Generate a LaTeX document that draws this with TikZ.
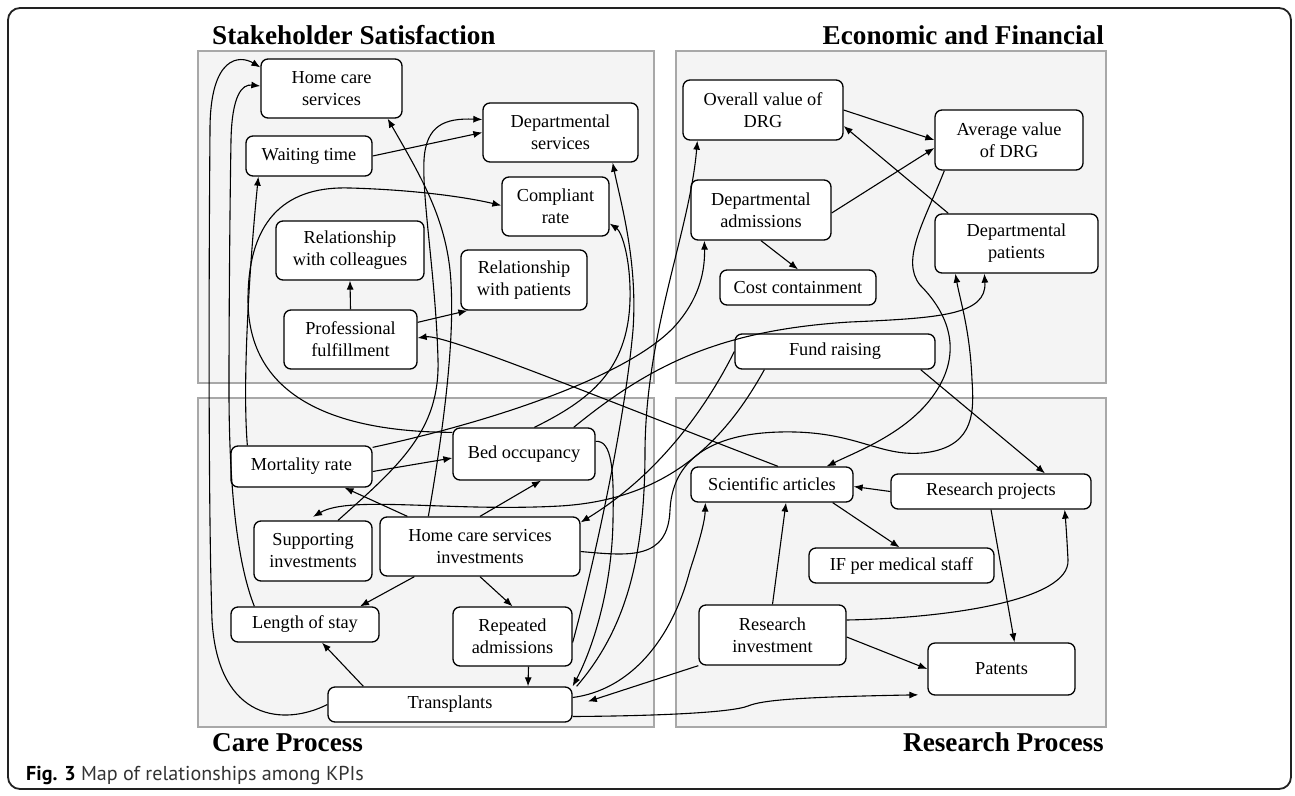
\documentclass[tikz,border=0pt]{standalone}
\usepackage{fontspec}
\setmainfont{Liberation Serif}
\newfontfamily\capfont{PT Sans}
\usetikzlibrary{arrows.meta,calc}
\definecolor{quadfill}{HTML}{F4F4F4}
\definecolor{quadline}{HTML}{A8A8A8}
\definecolor{framecol}{HTML}{222222}
\definecolor{captext}{HTML}{333333}
\pgfdeclarelayer{bg}
\pgfsetlayers{bg,main}
\newcommand\kpifont{\fontsize{18.3}{22}\selectfont}
\newcommand\ttlfont{\fontsize{27.2}{30}\selectfont\bfseries}
\tikzset{
  kpi/.style={draw=black, line width=1.3pt, rounded corners=7pt, fill=white, align=center, inner sep=0pt, font=\kpifont},
  conn/.style={-{Latex[length=9pt,width=7pt]}, line width=1.1pt},
  quad/.style={fill=quadfill, draw=quadline, line width=1.2pt},
  ttl/.style={font=\ttlfont, inner sep=0pt}
}
\begin{document}
\begin{tikzpicture}[x=1pt,y=-1pt]
\useasboundingbox (0,0) rectangle (1295,795);
\begin{pgfonlayer}{bg}
\fill[white] (0,0) rectangle (1295,795);
\draw[framecol, line width=1.8pt, rounded corners=12pt] (8,8) rectangle (1291,789);
\draw[quad] (198,51) rectangle (654,383);
\draw[quad] (676,51) rectangle (1106,383);
\draw[quad] (198,398) rectangle (654,727);
\draw[quad] (676,398) rectangle (1106,727);
\end{pgfonlayer}
% titles
\node[ttl, anchor=base west] (tSS) at (212,44) {Stakeholder Satisfaction};
\node[ttl, anchor=base east] (tEF) at (1104,44) {Economic and Financial};
\node[ttl, anchor=base west] (tCP) at (212,751) {Care Process};
\node[ttl, anchor=base east] (tRP) at (1104,751) {Research Process};
\node[anchor=base west, inner sep=0pt, text=captext, font=\capfont\fontsize{20.1}{23}\selectfont] (cap) at (26,780) {\textbf{\color{black}Fig. 3} Map of relationships among KPIs};
% Stakeholder Satisfaction
\node[kpi,minimum width=141pt,minimum height=59pt] (HCS) at (331.5,88.5) {Home care\\services};
\node[kpi,minimum width=126pt,minimum height=40pt] (WT) at (309,156) {Waiting time};
\node[kpi,minimum width=155pt,minimum height=59pt] (DS) at (560.5,132.5) {Departmental\\services};
\node[kpi,minimum width=107pt,minimum height=59pt] (CR) at (555.5,206.5) {Compliant\\rate};
\node[kpi,minimum width=148pt,minimum height=59pt] (RC) at (350,250.5) {Relationship\\with colleagues};
\node[kpi,minimum width=126pt,minimum height=60pt] (RPt) at (524,280) {Relationship\\with patients};
\node[kpi,minimum width=133pt,minimum height=59pt] (PF) at (350.5,339.5) {Professional\\fulfillment};
% Economic and Financial
\node[kpi,minimum width=160pt,minimum height=60pt] (OVD) at (763,110) {Overall value of\\DRG};
\node[kpi,minimum width=148pt,minimum height=60pt] (AVD) at (1009,140) {Average value\\of DRG};
\node[kpi,minimum width=140pt,minimum height=60pt] (DA) at (761,210) {Departmental\\admissions};
\node[kpi,minimum width=163pt,minimum height=59pt] (DP) at (1016.5,243.5) {Departmental\\patients};
\node[kpi,minimum width=156pt,minimum height=35pt] (CC) at (798,287.5) {Cost containment};
\node[kpi,minimum width=200pt,minimum height=35pt] (FR) at (835,351.5) {Fund raising};
% Care Process
\node[kpi,minimum width=142pt,minimum height=52pt] (BO) at (524,454) {Bed occupancy};
\node[kpi,minimum width=141pt,minimum height=41pt] (MR) at (301.5,466.5) {Mortality rate};
\node[kpi,minimum width=118pt,minimum height=60pt] (SI) at (313,551) {Supporting\\investments};
\node[kpi,minimum width=200pt,minimum height=59pt] (HCSI) at (480,546.5) {Home care services\\investments};
\node[kpi,minimum width=148pt,minimum height=35pt] (LoS) at (305,624.5) {Length of stay};
\node[kpi,minimum width=119pt,minimum height=59pt] (RA) at (512.5,636.5) {Repeated\\admissions};
\node[kpi,minimum width=244pt,minimum height=35pt] (T) at (450,704.5) {Transplants};
% Research Process
\node[kpi,minimum width=162pt,minimum height=35pt] (SA) at (772,484.5) {Scientific articles};
\node[kpi,minimum width=200pt,minimum height=35pt] (RPj) at (991,491.5) {Research projects};
\node[kpi,minimum width=185pt,minimum height=35pt] (IF) at (901.5,565.5) {IF per medical staff};
\node[kpi,minimum width=147pt,minimum height=60pt] (RI) at (772.5,635) {Research\\investment};
\node[kpi,minimum width=147pt,minimum height=52pt] (Pat) at (1001.5,669) {Patents};
% ---- connectors: Stakeholder Satisfaction
\draw[conn] (WT.east) -- (DS.west);
\draw[conn] (PF.north) -- (RC.south);
\draw[conn] ($(PF.north east)+(0,13)$) -- ($(RPt.south west)+(7,0)$);
\draw[conn] ($(SA.north)+(6,0)$) .. controls (600,398) and (445,334) .. ($(PF.east)+(0,-1.5)$);
\draw[conn] (T.west) .. controls (285,726) and (218,722) .. (212,620) .. controls (208,500) and (209,250) .. (210,130) .. controls (210,55) and (240,55) .. ($(HCS.north west)+(0,9)$);
\draw[conn] ($(LoS.north west)+(24,0)$) .. controls (236,560) and (229,480) .. (229,390) .. controls (229,300) and (230,200) .. (231,140) .. controls (232,95) and (242,84) .. ($(HCS.west)+(0,-2.5)$);
\draw[conn] ($(MR.north west)+(17,0)$) .. controls (242,380) and (250,260) .. ($(WT.south west)+(13,0)$);
\draw[conn] ($(BO.north west)+(0,5)$) .. controls (340,432) and (248,400) .. (248,300) .. controls (248,215) and (290,186) .. (350,188) .. controls (420,190) and (470,198) .. ($(CR.west)+(0,-1)$);
\draw[conn] ($(HCSI.north west)+(49,0)$) .. controls (445,420) and (456,330) .. (450,270) .. controls (444,215) and (420,175) .. ($(HCS.south east)+(-15,0)$);
\draw[conn] ($(SI.north)+(25,0)$) .. controls (400,465) and (440,430) .. (438,360) .. controls (436,280) and (422,200) .. (424,160) .. controls (426,125) and (445,118) .. ($(DS.west)+(0,-13)$);
\draw[conn] ($(BO.north west)+(82,0)$) .. controls (590,400) and (628,370) .. (630,300) .. controls (631,260) and (622,232) .. ($(CR.east)+(0,17)$);
\draw[conn] ($(RA.east)+(0,6)$) .. controls (595,560) and (625,420) .. (633,330) .. controls (638,260) and (620,200) .. ($(DS.south east)+(-26,0)$);
\draw[conn] ($(T.north east)+(4,0)$) .. controls (625,630) and (645,560) .. (645,450) .. controls (646,330) and (690,230) .. ($(OVD.south west)+(15,0)$);
% ---- Care Process
\draw[conn] ($(BO.north east)+(0,14)$) .. controls (612,440) and (614,470) .. (613,520) .. controls (612,590) and (592,650) .. (T.north east);
\draw[conn] ($(MR.north east)+(0,2)$) .. controls (500,420) and (640,372) .. (680,320) .. controls (700,295) and (705,270) .. ($(DA.south west)+(14,0)$);
\draw[conn] ($(BO.north east)+(-22,0)$) .. controls (650,365) and (720,330) .. (850,322) .. controls (940,318) and (987,315) .. ($(DP.south west)+(50,0)$);
\draw[conn] ($(HCSI.east)+(0,5)$) .. controls (630,556) and (668,560) .. (670,510) .. controls (672,468) and (700,434) .. (780,432) .. controls (860,430) and (880,460) .. (930,452) .. controls (975,444) and (974,410) .. (972,380) .. controls (970,330) and (960,300) .. ($(DP.south west)+(21,0)$);
\draw[conn] ($(T.north west)+(36,0)$) -- ($(LoS.south)+(17,0)$);
\draw[conn] ($(HCSI.south west)+(35,0)$) -- ($(LoS.north)+(55,0)$);
\draw[conn] (HCSI.south) -- (RA.north);
\draw[conn] ($(RA.south)+(16,0)$) -- ($(T.north)+(78,0)$);
\draw[conn] (HCSI.north) -- ($(BO.south)+(17,0)$);
\draw[conn] ($(MR.east)+(0,5)$) -- ($(BO.west)+(0,4)$);
\draw[conn] ($(HCSI.north west)+(28,0)$) -- ($(MR.south)+(43,0)$);
% ---- Economic and Financial
\draw[conn] (FR.west) .. controls (700,420) and (650,480) .. ($(HCSI.north east)+(0,6)$);
\draw[conn,shorten >=7pt] ($(FR.south west)+(30,0)$) .. controls (720,450) and (660,500) .. (560,506) .. controls (450,512) and (350,495) .. ($(SI.north)+(-6,0)$);
\draw[conn] ($(FR.south east)+(-15,0)$) -- ($(RPj.north)+(54,0)$);
\draw[conn] ($(AVD.south west)+(10,0)$) .. controls (925,220) and (900,260) .. (920,285) .. controls (945,310) and (962,345) .. (940,385) .. controls (915,430) and (860,450) .. ($(SA.north east)+(-27,0)$);
\draw[conn] ($(DP.north west)+(14,0)$) -- ($(OVD.east)+(0,16)$);
\draw[conn] (OVD.east) -- (AVD.west);
\draw[conn] ($(DA.east)+(0,3)$) -- ($(AVD.west)+(0,8)$);
\draw[conn] (DA.south) -- (CC.north);
% ---- Research Process
\draw[conn] ($(T.east)+(0,-7)$) .. controls (630,690) and (672,640) .. (690,570) .. controls (700,540) and (705,520) .. ($(SA.south west)+(15,0)$);
\draw[conn,shorten >=9pt] ($(T.east)+(0,12)$) .. controls (650,716) and (730,713) .. (748,706) .. controls (762,700) and (800,697) .. ($(Pat.south west)+(0,-1)$);
\draw[conn] (RI.north) -- ($(SA.south)+(14,0)$);
\draw[conn] ($(RI.east)+(0,2)$) -- (Pat.west);
\draw[conn] ($(RI.east)+(0,-15)$) .. controls (950,618) and (1070,600) .. (1068,560) .. controls (1067,540) and (1066,525) .. ($(RPj.south east)+(-27,0)$);
\draw[conn,shorten >=16pt] (RI.south west) -- ($(T.east)+(0,2)$);
\draw[conn] (RPj.west) -- ($(SA.east)+(0,2)$);
\draw[conn] (RPj.south) -- ($(Pat.north)+(13,0)$);
\draw[conn] ($(SA.south east)+(-21,0)$) -- ($(IF.north)+(-2,0)$);
\end{tikzpicture}
\end{document}
